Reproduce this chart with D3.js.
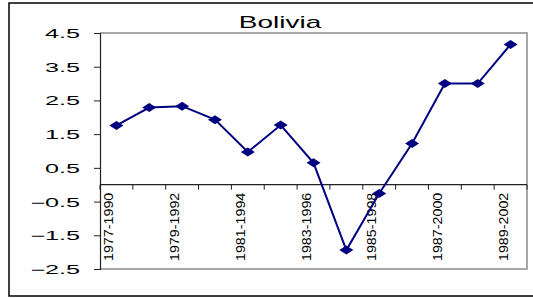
<!DOCTYPE html>
<html>
<head>
<meta charset="utf-8">
<script src="https://cdn.jsdelivr.net/npm/d3@7"></script>
<style>
  body { margin: 0; background: #fff; }
  svg { display: block; font-family: "Liberation Sans", Arial, sans-serif; }
</style>
</head>
<body>
<div id="chart"></div>
<script>
// data
const title = "Bolivia";
const periods = ["1977-1990", "1978-1991", "1979-1992", "1980-1993", "1981-1994", "1982-1995",
    "1983-1996", "1984-1997", "1985-1998", "1986-1999", "1987-2000", "1988-2001", "1989-2002"];
const values = [1.76, 2.29, 2.33, 1.93, 0.97, 1.77, 0.65, -1.94, -0.26, 1.22, 3.0, 3.0, 4.16];
const yTicks = [4.5, 3.5, 2.5, 1.5, 0.5, -0.5, -1.5, -2.5];

const width = 533, height = 298;
const plot = { left: 100, right: 527, top: 33, bottom: 269 };
const navy = "#000080";

const svg = d3.select("#chart").append("svg")
    .attr("width", width)
    .attr("height", height);

// outer chart border (runs off the right edge in the reference)
svg.append("rect")
    .attr("x", 9).attr("y", 3)
    .attr("width", 540).attr("height", 293)
    .attr("fill", "none")
    .attr("stroke", "#000")
    .attr("stroke-width", 1.5);

const x = d3.scaleBand()
    .domain(periods)
    .range([plot.left, plot.right]);

const y = d3.scaleLinear()
    .domain([-2.5, 4.5])
    .range([plot.bottom, plot.top]);

// plot area frame: grey top, right, bottom
svg.append("path")
    .attr("d", `M${plot.left},${plot.top}H${plot.right}V${plot.bottom}H${plot.left}`)
    .attr("fill", "none")
    .attr("stroke", "#8c8c8c")
    .attr("stroke-width", 1.5);

// y axis
const yAxis = svg.append("g")
    .attr("transform", `translate(${plot.left},0)`)
    .call(d3.axisLeft(y).tickValues(yTicks).tickSize(6).tickFormat(d3.format(".1f")));
yAxis.select(".domain").attr("stroke", "#222").attr("stroke-width", 1.2);
yAxis.selectAll(".tick line").attr("stroke", "#222");
yAxis.selectAll(".tick text").remove();

yAxis.selectAll(".tick")
    .append("text")
    .attr("transform", "translate(-20,4.5) scale(2.1,1)")
    .attr("text-anchor", "end")
    .attr("fill", "#000")
    .attr("font-size", "12px")
    .text(d => d3.format(".1f")(d));

// x axis at zero, ticks on category boundaries
const x0 = y(0);
svg.append("line")
    .attr("x1", plot.left).attr("x2", plot.right)
    .attr("y1", x0).attr("y2", x0)
    .attr("stroke", "#222")
    .attr("stroke-width", 1.2);

svg.append("g")
    .selectAll("line")
    .data(d3.range(periods.length + 1))
    .join("line")
    .attr("x1", i => plot.left + i * x.bandwidth())
    .attr("x2", i => plot.left + i * x.bandwidth())
    .attr("y1", x0)
    .attr("y2", x0 + 5)
    .attr("stroke", "#222");

// every other period label, rotated
svg.append("g")
    .selectAll("text")
    .data(periods.filter((d, i) => i % 2 === 0))
    .join("text")
    .attr("transform", d => `translate(${x(d) + x.bandwidth() / 2 - 3},${x0 + 8}) rotate(-90) scale(1.1,1)`)
    .attr("text-anchor", "end")
    .attr("font-size", "13px")
    .attr("fill", "#000")
    .text(d => d);

// series line
const line = d3.line()
    .x((d, i) => x(periods[i]) + x.bandwidth() / 2)
    .y(d => y(d));

svg.append("path")
    .datum(values)
    .attr("d", line)
    .attr("fill", "none")
    .attr("stroke", navy)
    .attr("stroke-width", 2);

// diamond markers
svg.append("g")
    .selectAll("path")
    .data(values)
    .join("path")
    .attr("transform", (d, i) => `translate(${x(periods[i]) + x.bandwidth() / 2},${y(d)})`)
    .attr("d", "M-7,0L0,-4.5L7,0L0,4.5Z")
    .attr("fill", navy);

// title
svg.append("text")
    .attr("transform", "translate(280,28) scale(1.75,1)")
    .attr("text-anchor", "middle")
    .attr("font-size", "16px")
    .attr("fill", "#000")
    .text(title);
</script>
</body>
</html>
